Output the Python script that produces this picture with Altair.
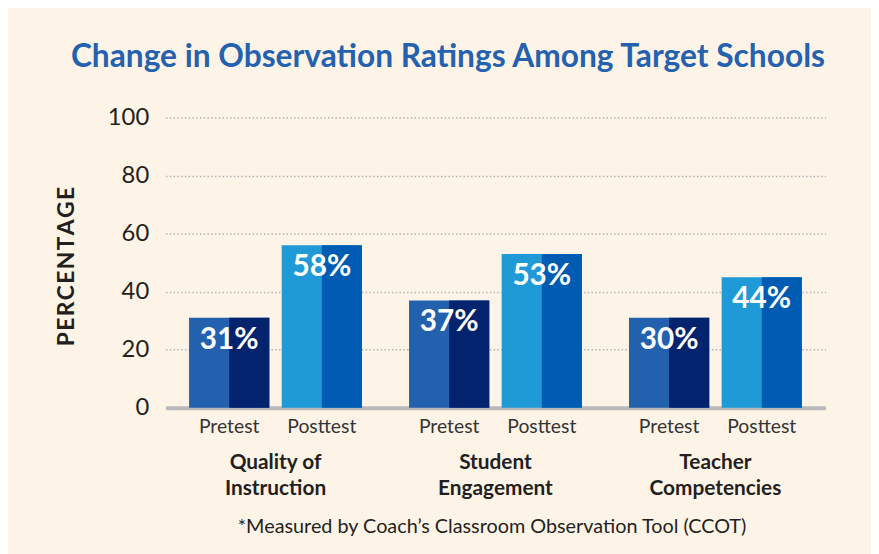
import altair as alt
import pandas as pd

# ---- data ----
groups = ["Quality of\nInstruction", "Student\nEngagement", "Teacher\nCompetencies"]
tests = ["Pretest", "Posttest"]
pretest_heights = [31, 37, 31]
posttest_heights = [56, 53, 45]
pretest_labels = ["31%", "37%", "30%"]
posttest_labels = ["58%", "53%", "44%"]
y_ticks = [0, 20, 40, 60, 80, 100]

title_text = "Change in Observation Ratings Among Target Schools"
y_title = "\u200a".join("PERCENTAGE")
footnote = "*Measured by Coach\u2019s Classroom Observation Tool (CCOT)"

rows = []
for g, ph, pl, qh, ql in zip(groups, pretest_heights, pretest_labels, posttest_heights, posttest_labels):
    rows.append({"group": g, "test": "Pretest", "height": ph, "label": pl})
    rows.append({"group": g, "test": "Posttest", "height": qh, "label": ql})
df = pd.DataFrame(rows)

FONT = "Lato"
W, H = 666, 293
BAR_W = 81

left_colors = alt.Scale(domain=tests, range=["#2360ae", "#1f9ad6"])
right_colors = alt.Scale(domain=tests, range=["#04236f", "#005cb3"])

x_enc = alt.X(
    "group:N",
    sort=groups,
    scale=alt.Scale(paddingInner=0, paddingOuter=0),
    axis=alt.Axis(
        title=footnote,
        labelExpr="split(datum.label, '\\n')",
        labelAngle=0,
        labelFont=FONT,
        labelFontSize=21,
        labelFontWeight="bold",
        labelColor="#231f20",
        labelLineHeight=26,
        labelPadding=44,
        ticks=False,
        tickSize=0,
        domain=True,
        domainColor="#b9b9bb",
        domainWidth=4,
        titleFont=FONT,
        titleFontSize=20,
        titleFontWeight="normal",
        titleColor="#231f20",
        titleX=329,
        titleY=120,
        titleAlign="center",
        titleBaseline="middle",
    ),
)
# full bars: band step ~93.5 px, band 81 px
xoff_full = alt.XOffset("test:N", sort=tests,
                        scale=alt.Scale(type="band", paddingInner=0.134, paddingOuter=0.254))
# right (shaded) halves: same step, half-width bands shifted right by a quarter bar
xoff_half = alt.XOffset("test:N", sort=tests,
                        scale=alt.Scale(type="band", paddingInner=0.5668, paddingOuter=0.4706, align=0.73))
y_enc = alt.Y(
    "height:Q",
    scale=alt.Scale(domain=[0, 100], nice=False),
    axis=alt.Axis(
        values=y_ticks,
        title=y_title,
        domain=False,
        ticks=False,
        labelFont=FONT,
        labelFontSize=24,
        labelColor="#231f20",
        labelPadding=17,
        grid=True,
        gridColor="#b3b3b3",
        gridDash=[1.5, 2.3],
        gridWidth=1.5,
        titleFont=FONT,
        titleFontSize=23,
        titleFontWeight="bold",
        titleColor="#231f20",
        titleAngle=270,
        titleX=-100,
        titleY=150,
        titleAlign="center",
        titleBaseline="middle",
    ),
)

base = alt.Chart(df)

bars_left = base.mark_bar(width=BAR_W).encode(
    x=x_enc, xOffset=xoff_full, y=y_enc,
    color=alt.Color("test:N", scale=left_colors, legend=None),
)
bars_right = base.mark_bar(width=BAR_W / 2).encode(
    x=x_enc, xOffset=xoff_half, y=y_enc,
    fill=alt.Fill("test:N", scale=right_colors, legend=None),
)
values = base.mark_text(
    font=FONT, fontSize=30, fontWeight="bold", color="white", baseline="middle", dy=22
).encode(x=x_enc, xOffset=xoff_full, y=y_enc, text="label:N")
sublabels = base.mark_text(
    font=FONT, fontSize=19.5, color="#333333", baseline="middle"
).encode(x=x_enc, xOffset=xoff_full, y=alt.value(H + 19), text="test:N")

front = alt.layer(values, sublabels)

chart = alt.layer(bars_left, bars_right, front).resolve_scale(
    xOffset="independent"
).properties(
    width=W,
    height=H,
    title=alt.TitleParams(
        title_text,
        font=FONT,
        fontSize=32,
        fontWeight="bold",
        color="#2461ae",
        anchor="middle",
        frame="group",
        dx=-48,
        baseline="alphabetic",
        offset=7,
    ),
    autosize=alt.AutoSizeParams(type="none"),
    padding={"left": 159, "top": 108, "right": 46, "bottom": 145},
    background="#fdf4e7",
).configure_view(stroke=None)

chart.save("out.html", embed_options={"renderer": "svg", "actions": False})
